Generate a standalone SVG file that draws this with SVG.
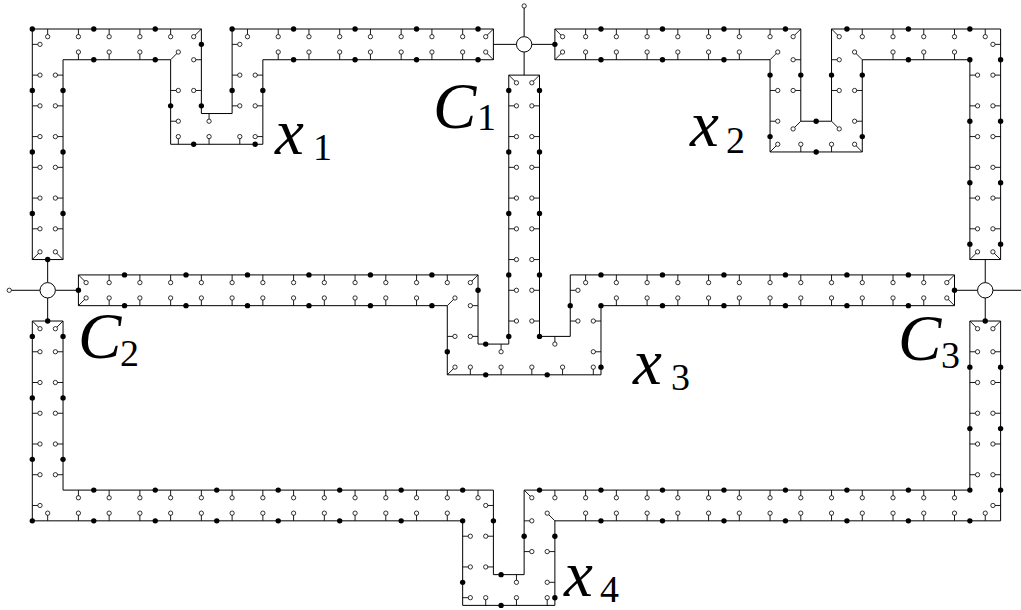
<svg xmlns="http://www.w3.org/2000/svg" width="1021" height="610" viewBox="0 0 1021 610">
<style>
.ln{fill:none;stroke:#000;stroke-width:1;vector-effect:non-scaling-stroke}
.st{fill:none;stroke:#000;stroke-width:.9;vector-effect:non-scaling-stroke}
.pc circle{fill:#fff;stroke:#000;stroke-width:.8;vector-effect:non-scaling-stroke}
.dt circle{fill:#000}
.nd{fill:#fff;stroke:#000;stroke-width:1;vector-effect:non-scaling-stroke}
.lb{font-family:"Liberation Serif","Times New Roman",serif;font-style:italic;font-size:65px}
.sb{font-family:"Liberation Serif","Times New Roman",serif;font-size:38px}
</style>
<rect width="1021" height="610" fill="#fff"/>
<g transform="translate(32.3 29) scale(15.37)">
<g id="connectors">
<path class="ln" d="M30 1H31.5M32.5 1H34M32 1.5V3M32 .5V-1.5M-1.5 17H.5M1.5 17H3M1 15V16.5M1 17.5V19M60 17H61.5M62.5 17H65M62 15V16.5M62 17.5V19"/>
<g class="pc"><circle cx="32" cy="-1.5" r=".14"/><circle cx="-1.5" cy="17" r=".14"/></g>
</g>
<g id="C1"><circle class="nd" cx="32" cy="1" r=".5"/></g>
<g id="C2"><circle class="nd" cx="1" cy="17" r=".5"/></g>
<g id="C3"><circle class="nd" cx="62" cy="17" r=".5"/></g>

<g id="strip-top-left">
<polygon class="ln" points="0,15 0,0 11,0 11,5.5 13,5.5 13,0 30,0 30,2 15,2 15,7.5 9,7.5 9,2 2,2 2,15"/>
<path class="st" d="M1 0v.5M3 0v.5M5 0v.5M7 0v.5M9 0v.5M11 0l-.5 .5M0 1h.5M0 3h.5M0 5h.5M0 7h.5M0 9h.5M0 11h.5M0 13h.5M0 15l.5-.5M2 3h-.5M2 5h-.5M2 7h-.5M2 9h-.5M2 11h-.5M2 13h-.5M2 15l-.5-.5M3 2v-.5M5 2v-.5M7 2v-.5M9 2l.5-.5M11 2h-.5M11 4h-.5M11.5 5.5v.5M13 1h.5M13 3h.5M13 5h.5M9 4h.5M9 6h.5M9.5 7.5v-.5M11.5 7.5v-.5M13.5 7.5v-.5M15 3h-.5M15 5h-.5M15 7h-.5M14 0v.5M16 0v.5M18 0v.5M20 0v.5M22 0v.5M24 0v.5M26 0v.5M28 0v.5M30 0l-.5 .5M16 2v-.5M18 2v-.5M20 2v-.5M22 2v-.5M24 2v-.5M26 2v-.5M28 2v-.5M30 2l-.5-.5"/>
<g class="pc">
<circle cx="1" cy=".5" r=".14"/><circle cx="3" cy=".5" r=".14"/><circle cx="5" cy=".5" r=".14"/><circle cx="7" cy=".5" r=".14"/><circle cx="9" cy=".5" r=".14"/><circle cx="10.5" cy=".5" r=".14"/>
<circle cx=".5" cy="1" r=".14"/><circle cx=".5" cy="3" r=".14"/><circle cx=".5" cy="5" r=".14"/><circle cx=".5" cy="7" r=".14"/><circle cx=".5" cy="9" r=".14"/><circle cx=".5" cy="11" r=".14"/><circle cx=".5" cy="13" r=".14"/><circle cx=".5" cy="14.5" r=".14"/>
<circle cx="1.5" cy="3" r=".14"/><circle cx="1.5" cy="5" r=".14"/><circle cx="1.5" cy="7" r=".14"/><circle cx="1.5" cy="9" r=".14"/><circle cx="1.5" cy="11" r=".14"/><circle cx="1.5" cy="13" r=".14"/><circle cx="1.5" cy="14.5" r=".14"/>
<circle cx="3" cy="1.5" r=".14"/><circle cx="5" cy="1.5" r=".14"/><circle cx="7" cy="1.5" r=".14"/><circle cx="9.5" cy="1.5" r=".14"/>
<circle cx="10.5" cy="2" r=".14"/><circle cx="10.5" cy="4" r=".14"/><circle cx="11.5" cy="6" r=".14"/>
<circle cx="13.5" cy="1" r=".14"/><circle cx="13.5" cy="3" r=".14"/><circle cx="13.5" cy="5" r=".14"/>
<circle cx="9.5" cy="4" r=".14"/><circle cx="9.5" cy="6" r=".14"/>
<circle cx="9.5" cy="7" r=".14"/><circle cx="11.5" cy="7" r=".14"/><circle cx="13.5" cy="7" r=".14"/>
<circle cx="14.5" cy="3" r=".14"/><circle cx="14.5" cy="5" r=".14"/><circle cx="14.5" cy="7" r=".14"/>
<circle cx="14" cy=".5" r=".14"/><circle cx="16" cy=".5" r=".14"/><circle cx="18" cy=".5" r=".14"/><circle cx="20" cy=".5" r=".14"/><circle cx="22" cy=".5" r=".14"/><circle cx="24" cy=".5" r=".14"/><circle cx="26" cy=".5" r=".14"/><circle cx="28" cy=".5" r=".14"/><circle cx="29.5" cy=".5" r=".14"/>
<circle cx="16" cy="1.5" r=".14"/><circle cx="18" cy="1.5" r=".14"/><circle cx="20" cy="1.5" r=".14"/><circle cx="22" cy="1.5" r=".14"/><circle cx="24" cy="1.5" r=".14"/><circle cx="26" cy="1.5" r=".14"/><circle cx="28" cy="1.5" r=".14"/><circle cx="29.5" cy="1.5" r=".14"/>
</g>
<g class="dt">
<circle cx="0" cy="0" r=".175"/><circle cx="0" cy="4" r=".175"/><circle cx="0" cy="8" r=".175"/><circle cx="0" cy="12" r=".175"/><circle cx="4" cy="0" r=".175"/><circle cx="8" cy="0" r=".175"/><circle cx="11" cy="1" r=".175"/><circle cx="11" cy="5" r=".175"/><circle cx="13" cy="4" r=".175"/><circle cx="13" cy="0" r=".175"/><circle cx="17" cy="0" r=".175"/><circle cx="21" cy="0" r=".175"/><circle cx="25" cy="0" r=".175"/><circle cx="29" cy="0" r=".175"/><circle cx="4" cy="2" r=".175"/><circle cx="8" cy="2" r=".175"/><circle cx="17" cy="2" r=".175"/><circle cx="21" cy="2" r=".175"/><circle cx="25" cy="2" r=".175"/><circle cx="29" cy="2" r=".175"/><circle cx="2" cy="4" r=".175"/><circle cx="2" cy="8" r=".175"/><circle cx="2" cy="12" r=".175"/><circle cx="9" cy="5" r=".175"/><circle cx="10.5" cy="7.5" r=".175"/><circle cx="14.5" cy="7.5" r=".175"/><circle cx="15" cy="4" r=".175"/><circle cx="1" cy="15" r=".175"/>
</g>
</g>

<g id="strip-top-right">
<polygon class="ln" points="34,0 50,0 50,6 52,6 52,0 63,0 63,15 61,15 61,2 54,2 54,8 48,8 48,2 34,2"/>
<path class="st" d="M34 0l.5 .5M34 2l.5-.5M36 0v.5M38 0v.5M40 0v.5M42 0v.5M44 0v.5M46 0v.5M48 0v.5M50 0l-.5 .5M36 2v-.5M38 2v-.5M40 2v-.5M42 2v-.5M44 2v-.5M46 2v-.5M48 2l.5-.5M50 2h-.5M50 4h-.5M50 6l-.5 .5M52 2h.5M52 4h.5M52 6l.5 .5M52 0l.5 .5M48 4h.5M48 6h.5M48 8l.5-.5M50 8v-.5M52 8v-.5M54 4h-.5M54 6h-.5M54 8l-.5-.5M54 2l-.5-.5M54 0v.5M56 0v.5M58 0v.5M60 0v.5M62 0v.5M56 2v-.5M58 2v-.5M60 2v-.5M63 1h-.5M63 3h-.5M63 5h-.5M63 7h-.5M63 9h-.5M63 11h-.5M63 13h-.5M63 15l-.5-.5M61 3h.5M61 5h.5M61 7h.5M61 9h.5M61 11h.5M61 13h.5M61 15l.5-.5"/>
<g class="pc">
<circle cx="34.5" cy=".5" r=".14"/><circle cx="34.5" cy="1.5" r=".14"/>
<circle cx="36" cy=".5" r=".14"/><circle cx="38" cy=".5" r=".14"/><circle cx="40" cy=".5" r=".14"/><circle cx="42" cy=".5" r=".14"/><circle cx="44" cy=".5" r=".14"/><circle cx="46" cy=".5" r=".14"/><circle cx="48" cy=".5" r=".14"/><circle cx="49.5" cy=".5" r=".14"/>
<circle cx="36" cy="1.5" r=".14"/><circle cx="38" cy="1.5" r=".14"/><circle cx="40" cy="1.5" r=".14"/><circle cx="42" cy="1.5" r=".14"/><circle cx="44" cy="1.5" r=".14"/><circle cx="46" cy="1.5" r=".14"/><circle cx="48.5" cy="1.5" r=".14"/>
<circle cx="49.5" cy="2" r=".14"/><circle cx="49.5" cy="4" r=".14"/><circle cx="49.5" cy="6.5" r=".14"/>
<circle cx="52.5" cy="2" r=".14"/><circle cx="52.5" cy="4" r=".14"/><circle cx="52.5" cy="6.5" r=".14"/><circle cx="52.5" cy=".5" r=".14"/>
<circle cx="48.5" cy="4" r=".14"/><circle cx="48.5" cy="6" r=".14"/><circle cx="48.5" cy="7.5" r=".14"/>
<circle cx="50" cy="7.5" r=".14"/><circle cx="52" cy="7.5" r=".14"/>
<circle cx="53.5" cy="4" r=".14"/><circle cx="53.5" cy="6" r=".14"/><circle cx="53.5" cy="7.5" r=".14"/><circle cx="53.5" cy="1.5" r=".14"/>
<circle cx="54" cy=".5" r=".14"/><circle cx="56" cy=".5" r=".14"/><circle cx="58" cy=".5" r=".14"/><circle cx="60" cy=".5" r=".14"/><circle cx="62" cy=".5" r=".14"/>
<circle cx="56" cy="1.5" r=".14"/><circle cx="58" cy="1.5" r=".14"/><circle cx="60" cy="1.5" r=".14"/>
<circle cx="62.5" cy="1" r=".14"/><circle cx="62.5" cy="3" r=".14"/><circle cx="62.5" cy="5" r=".14"/><circle cx="62.5" cy="7" r=".14"/><circle cx="62.5" cy="9" r=".14"/><circle cx="62.5" cy="11" r=".14"/><circle cx="62.5" cy="13" r=".14"/><circle cx="62.5" cy="14.5" r=".14"/>
<circle cx="61.5" cy="3" r=".14"/><circle cx="61.5" cy="5" r=".14"/><circle cx="61.5" cy="7" r=".14"/><circle cx="61.5" cy="9" r=".14"/><circle cx="61.5" cy="11" r=".14"/><circle cx="61.5" cy="13" r=".14"/><circle cx="61.5" cy="14.5" r=".14"/>
</g>
<g class="dt">
<circle cx="34" cy="1" r=".175"/><circle cx="37" cy="0" r=".175"/><circle cx="41" cy="0" r=".175"/><circle cx="45" cy="0" r=".175"/><circle cx="49" cy="0" r=".175"/><circle cx="50" cy="3" r=".175"/><circle cx="51" cy="6" r=".175"/><circle cx="52" cy="3" r=".175"/><circle cx="53" cy="0" r=".175"/><circle cx="57" cy="0" r=".175"/><circle cx="61" cy="0" r=".175"/><circle cx="63" cy="2" r=".175"/><circle cx="63" cy="6" r=".175"/><circle cx="63" cy="10" r=".175"/><circle cx="63" cy="14" r=".175"/><circle cx="37" cy="2" r=".175"/><circle cx="41" cy="2" r=".175"/><circle cx="45" cy="2" r=".175"/><circle cx="48" cy="3" r=".175"/><circle cx="48" cy="7" r=".175"/><circle cx="51" cy="8" r=".175"/><circle cx="54" cy="3" r=".175"/><circle cx="54" cy="7" r=".175"/><circle cx="57" cy="2" r=".175"/><circle cx="61" cy="2" r=".175"/><circle cx="61" cy="6" r=".175"/><circle cx="61" cy="10" r=".175"/><circle cx="61" cy="14" r=".175"/>
</g>
</g>

<g id="strip-middle">
<polygon class="ln" points="3,16 29,16 29,20.5 31,20.5 31,3 33,3 33,20 35,20 35,16 60,16 60,18 37,18 37,22.5 27,22.5 27,18 3,18"/>
<path class="st" d="M3 16l.5 .5M3 18l.5-.5M5 16v.5M7 16v.5M9 16v.5M11 16v.5M13 16v.5M15 16v.5M17 16v.5M19 16v.5M21 16v.5M23 16v.5M25 16v.5M27 16v.5M29 16l-.5 .5M29 18h-.5M29 20h-.5M30.5 20.5v.5M31 3l.5 .5M31 5h.5M31 7h.5M31 9h.5M31 11h.5M31 13h.5M31 15h.5M31 17h.5M31 19h.5M33 3l-.5 .5M33 5h-.5M33 7h-.5M33 9h-.5M33 11h-.5M33 13h-.5M33 15h-.5M33 17h-.5M33 19h-.5M34 20v.5M35 17h.5M35 19h.5M36 16v.5M38 16v.5M40 16v.5M42 16v.5M44 16v.5M46 16v.5M48 16v.5M50 16v.5M52 16v.5M54 16v.5M56 16v.5M58 16v.5M60 16l-.5 .5M38 18v-.5M40 18v-.5M42 18v-.5M44 18v-.5M46 18v-.5M48 18v-.5M50 18v-.5M52 18v-.5M54 18v-.5M56 18v-.5M58 18v-.5M60 18l-.5-.5M37 19h-.5M37 21h-.5M28.5 22.5v-.5M30.5 22.5v-.5M32.5 22.5v-.5M34.5 22.5v-.5M36.5 22.5v-.5M27 20h.5M27 18l.5-.5M27 22.5l.5-.5M5 18v-.5M7 18v-.5M9 18v-.5M11 18v-.5M13 18v-.5M15 18v-.5M17 18v-.5M19 18v-.5M21 18v-.5M23 18v-.5M25 18v-.5"/>
<g class="pc">
<circle cx="3.5" cy="16.5" r=".14"/><circle cx="3.5" cy="17.5" r=".14"/>
<circle cx="5" cy="16.5" r=".14"/><circle cx="7" cy="16.5" r=".14"/><circle cx="9" cy="16.5" r=".14"/><circle cx="11" cy="16.5" r=".14"/><circle cx="13" cy="16.5" r=".14"/><circle cx="15" cy="16.5" r=".14"/><circle cx="17" cy="16.5" r=".14"/><circle cx="19" cy="16.5" r=".14"/><circle cx="21" cy="16.5" r=".14"/><circle cx="23" cy="16.5" r=".14"/><circle cx="25" cy="16.5" r=".14"/><circle cx="27" cy="16.5" r=".14"/><circle cx="28.5" cy="16.5" r=".14"/>
<circle cx="28.5" cy="18" r=".14"/><circle cx="28.5" cy="20" r=".14"/><circle cx="30.5" cy="21" r=".14"/>
<circle cx="31.5" cy="3.5" r=".14"/><circle cx="31.5" cy="5" r=".14"/><circle cx="31.5" cy="7" r=".14"/><circle cx="31.5" cy="9" r=".14"/><circle cx="31.5" cy="11" r=".14"/><circle cx="31.5" cy="13" r=".14"/><circle cx="31.5" cy="15" r=".14"/><circle cx="31.5" cy="17" r=".14"/><circle cx="31.5" cy="19" r=".14"/>
<circle cx="32.5" cy="3.5" r=".14"/><circle cx="32.5" cy="5" r=".14"/><circle cx="32.5" cy="7" r=".14"/><circle cx="32.5" cy="9" r=".14"/><circle cx="32.5" cy="11" r=".14"/><circle cx="32.5" cy="13" r=".14"/><circle cx="32.5" cy="15" r=".14"/><circle cx="32.5" cy="17" r=".14"/><circle cx="32.5" cy="19" r=".14"/>
<circle cx="34" cy="20.5" r=".14"/><circle cx="35.5" cy="17" r=".14"/><circle cx="35.5" cy="19" r=".14"/>
<circle cx="36" cy="16.5" r=".14"/><circle cx="38" cy="16.5" r=".14"/><circle cx="40" cy="16.5" r=".14"/><circle cx="42" cy="16.5" r=".14"/><circle cx="44" cy="16.5" r=".14"/><circle cx="46" cy="16.5" r=".14"/><circle cx="48" cy="16.5" r=".14"/><circle cx="50" cy="16.5" r=".14"/><circle cx="52" cy="16.5" r=".14"/><circle cx="54" cy="16.5" r=".14"/><circle cx="56" cy="16.5" r=".14"/><circle cx="58" cy="16.5" r=".14"/><circle cx="59.5" cy="16.5" r=".14"/>
<circle cx="38" cy="17.5" r=".14"/><circle cx="40" cy="17.5" r=".14"/><circle cx="42" cy="17.5" r=".14"/><circle cx="44" cy="17.5" r=".14"/><circle cx="46" cy="17.5" r=".14"/><circle cx="48" cy="17.5" r=".14"/><circle cx="50" cy="17.5" r=".14"/><circle cx="52" cy="17.5" r=".14"/><circle cx="54" cy="17.5" r=".14"/><circle cx="56" cy="17.5" r=".14"/><circle cx="58" cy="17.5" r=".14"/><circle cx="59.5" cy="17.5" r=".14"/>
<circle cx="36.5" cy="19" r=".14"/><circle cx="36.5" cy="21" r=".14"/>
<circle cx="28.5" cy="22" r=".14"/><circle cx="30.5" cy="22" r=".14"/><circle cx="32.5" cy="22" r=".14"/><circle cx="34.5" cy="22" r=".14"/><circle cx="36.5" cy="22" r=".14"/>
<circle cx="27.5" cy="20" r=".14"/><circle cx="27.5" cy="17.5" r=".14"/><circle cx="27.5" cy="22" r=".14"/>
<circle cx="5" cy="17.5" r=".14"/><circle cx="7" cy="17.5" r=".14"/><circle cx="9" cy="17.5" r=".14"/><circle cx="11" cy="17.5" r=".14"/><circle cx="13" cy="17.5" r=".14"/><circle cx="15" cy="17.5" r=".14"/><circle cx="17" cy="17.5" r=".14"/><circle cx="19" cy="17.5" r=".14"/><circle cx="21" cy="17.5" r=".14"/><circle cx="23" cy="17.5" r=".14"/><circle cx="25" cy="17.5" r=".14"/>
</g>
<g class="dt">
<circle cx="3" cy="17" r=".175"/><circle cx="6" cy="16" r=".175"/><circle cx="10" cy="16" r=".175"/><circle cx="14" cy="16" r=".175"/><circle cx="18" cy="16" r=".175"/><circle cx="22" cy="16" r=".175"/><circle cx="26" cy="16" r=".175"/><circle cx="29" cy="17" r=".175"/><circle cx="29.5" cy="20.5" r=".175"/>
<circle cx="31" cy="4" r=".175"/><circle cx="31" cy="8" r=".175"/><circle cx="31" cy="12" r=".175"/><circle cx="31" cy="16" r=".175"/><circle cx="31" cy="20" r=".175"/>
<circle cx="33" cy="4" r=".175"/><circle cx="33" cy="8" r=".175"/><circle cx="33" cy="12" r=".175"/><circle cx="33" cy="16" r=".175"/><circle cx="33" cy="20" r=".175"/>
<circle cx="35" cy="18" r=".175"/><circle cx="37" cy="16" r=".175"/><circle cx="41" cy="16" r=".175"/><circle cx="45" cy="16" r=".175"/><circle cx="49" cy="16" r=".175"/><circle cx="53" cy="16" r=".175"/><circle cx="57" cy="16" r=".175"/><circle cx="60" cy="17" r=".175"/>
<circle cx="37" cy="18" r=".175"/><circle cx="41" cy="18" r=".175"/><circle cx="45" cy="18" r=".175"/><circle cx="49" cy="18" r=".175"/><circle cx="53" cy="18" r=".175"/><circle cx="57" cy="18" r=".175"/>
<circle cx="37" cy="22" r=".175"/><circle cx="29.5" cy="22.5" r=".175"/><circle cx="33.5" cy="22.5" r=".175"/><circle cx="27" cy="21" r=".175"/>
<circle cx="6" cy="18" r=".175"/><circle cx="10" cy="18" r=".175"/><circle cx="14" cy="18" r=".175"/><circle cx="18" cy="18" r=".175"/><circle cx="22" cy="18" r=".175"/><circle cx="26" cy="18" r=".175"/>
</g>
</g>

<g id="strip-bottom">
<polygon class="ln" points="0,19 2,19 2,30 30,30 30,35.5 32,35.5 32,30 61,30 61,19 63,19 63,32 34,32 34,37.5 28,37.5 28,32 0,32"/>
<path class="st" d="M0 19l.5 .5M2 19l-.5 .5M61 19l.5 .5M63 19l-.5 .5M0 21h.5M0 23h.5M0 25h.5M0 27h.5M0 29h.5M0 31h.5M2 21h-.5M2 23h-.5M2 25h-.5M2 27h-.5M2 29h-.5M1 32v-.5M3 32v-.5M5 32v-.5M7 32v-.5M9 32v-.5M11 32v-.5M13 32v-.5M15 32v-.5M17 32v-.5M19 32v-.5M21 32v-.5M23 32v-.5M25 32v-.5M27 32v-.5M3 30v.5M5 30v.5M7 30v.5M9 30v.5M11 30v.5M13 30v.5M15 30v.5M17 30v.5M19 30v.5M21 30v.5M23 30v.5M25 30v.5M27 30v.5M29 30v.5M30 31h-.5M30 33h-.5M30 35h-.5M31.5 35.5v.5M32 32h.5M32 34h.5M32 30l.5 .5M34 30v.5M36 30v.5M38 30v.5M40 30v.5M42 30v.5M44 30v.5M46 30v.5M48 30v.5M50 30v.5M52 30v.5M54 30v.5M56 30v.5M58 30v.5M60 30v.5M61 21h.5M61 23h.5M61 25h.5M61 27h.5M61 29h.5M63 21h-.5M63 23h-.5M63 25h-.5M63 27h-.5M63 29h-.5M63 31h-.5M36 32v-.5M38 32v-.5M40 32v-.5M42 32v-.5M44 32v-.5M46 32v-.5M48 32v-.5M50 32v-.5M52 32v-.5M54 32v-.5M56 32v-.5M58 32v-.5M60 32v-.5M62 32v-.5M34 34h-.5M34 36h-.5M34 32l-.5-.5M29.5 37.5v-.5M31.5 37.5v-.5M33.5 37.5v-.5M28 33h.5M28 35h.5M28 37h.5"/>
<g class="pc">
<circle cx=".5" cy="19.5" r=".14"/><circle cx="1.5" cy="19.5" r=".14"/><circle cx="61.5" cy="19.5" r=".14"/><circle cx="62.5" cy="19.5" r=".14"/>
<circle cx=".5" cy="21" r=".14"/><circle cx=".5" cy="23" r=".14"/><circle cx=".5" cy="25" r=".14"/><circle cx=".5" cy="27" r=".14"/><circle cx=".5" cy="29" r=".14"/><circle cx=".5" cy="31" r=".14"/>
<circle cx="1.5" cy="21" r=".14"/><circle cx="1.5" cy="23" r=".14"/><circle cx="1.5" cy="25" r=".14"/><circle cx="1.5" cy="27" r=".14"/><circle cx="1.5" cy="29" r=".14"/>
<circle cx="1" cy="31.5" r=".14"/><circle cx="3" cy="31.5" r=".14"/><circle cx="5" cy="31.5" r=".14"/><circle cx="7" cy="31.5" r=".14"/><circle cx="9" cy="31.5" r=".14"/><circle cx="11" cy="31.5" r=".14"/><circle cx="13" cy="31.5" r=".14"/><circle cx="15" cy="31.5" r=".14"/><circle cx="17" cy="31.5" r=".14"/><circle cx="19" cy="31.5" r=".14"/><circle cx="21" cy="31.5" r=".14"/><circle cx="23" cy="31.5" r=".14"/><circle cx="25" cy="31.5" r=".14"/><circle cx="27" cy="31.5" r=".14"/>
<circle cx="3" cy="30.5" r=".14"/><circle cx="5" cy="30.5" r=".14"/><circle cx="7" cy="30.5" r=".14"/><circle cx="9" cy="30.5" r=".14"/><circle cx="11" cy="30.5" r=".14"/><circle cx="13" cy="30.5" r=".14"/><circle cx="15" cy="30.5" r=".14"/><circle cx="17" cy="30.5" r=".14"/><circle cx="19" cy="30.5" r=".14"/><circle cx="21" cy="30.5" r=".14"/><circle cx="23" cy="30.5" r=".14"/><circle cx="25" cy="30.5" r=".14"/><circle cx="27" cy="30.5" r=".14"/><circle cx="29" cy="30.5" r=".14"/>
<circle cx="29.5" cy="31" r=".14"/><circle cx="29.5" cy="33" r=".14"/><circle cx="29.5" cy="35" r=".14"/><circle cx="31.5" cy="36" r=".14"/>
<circle cx="32.5" cy="32" r=".14"/><circle cx="32.5" cy="34" r=".14"/><circle cx="32.5" cy="30.5" r=".14"/>
<circle cx="34" cy="30.5" r=".14"/><circle cx="36" cy="30.5" r=".14"/><circle cx="38" cy="30.5" r=".14"/><circle cx="40" cy="30.5" r=".14"/><circle cx="42" cy="30.5" r=".14"/><circle cx="44" cy="30.5" r=".14"/><circle cx="46" cy="30.5" r=".14"/><circle cx="48" cy="30.5" r=".14"/><circle cx="50" cy="30.5" r=".14"/><circle cx="52" cy="30.5" r=".14"/><circle cx="54" cy="30.5" r=".14"/><circle cx="56" cy="30.5" r=".14"/><circle cx="58" cy="30.5" r=".14"/><circle cx="60" cy="30.5" r=".14"/>
<circle cx="61.5" cy="21" r=".14"/><circle cx="61.5" cy="23" r=".14"/><circle cx="61.5" cy="25" r=".14"/><circle cx="61.5" cy="27" r=".14"/><circle cx="61.5" cy="29" r=".14"/>
<circle cx="62.5" cy="21" r=".14"/><circle cx="62.5" cy="23" r=".14"/><circle cx="62.5" cy="25" r=".14"/><circle cx="62.5" cy="27" r=".14"/><circle cx="62.5" cy="29" r=".14"/><circle cx="62.5" cy="31" r=".14"/>
<circle cx="36" cy="31.5" r=".14"/><circle cx="38" cy="31.5" r=".14"/><circle cx="40" cy="31.5" r=".14"/><circle cx="42" cy="31.5" r=".14"/><circle cx="44" cy="31.5" r=".14"/><circle cx="46" cy="31.5" r=".14"/><circle cx="48" cy="31.5" r=".14"/><circle cx="50" cy="31.5" r=".14"/><circle cx="52" cy="31.5" r=".14"/><circle cx="54" cy="31.5" r=".14"/><circle cx="56" cy="31.5" r=".14"/><circle cx="58" cy="31.5" r=".14"/><circle cx="60" cy="31.5" r=".14"/><circle cx="62" cy="31.5" r=".14"/>
<circle cx="33.5" cy="34" r=".14"/><circle cx="33.5" cy="36" r=".14"/><circle cx="33.5" cy="31.5" r=".14"/>
<circle cx="29.5" cy="37" r=".14"/><circle cx="31.5" cy="37" r=".14"/><circle cx="33.5" cy="37" r=".14"/>
<circle cx="28.5" cy="33" r=".14"/><circle cx="28.5" cy="35" r=".14"/><circle cx="28.5" cy="37" r=".14"/>
</g>
<g class="dt">
<circle cx="1" cy="19" r=".175"/><circle cx="62" cy="19" r=".175"/><circle cx="0" cy="20" r=".175"/><circle cx="0" cy="24" r=".175"/><circle cx="0" cy="28" r=".175"/><circle cx="0" cy="32" r=".175"/><circle cx="2" cy="20" r=".175"/><circle cx="2" cy="24" r=".175"/><circle cx="2" cy="28" r=".175"/>
<circle cx="4" cy="32" r=".175"/><circle cx="8" cy="32" r=".175"/><circle cx="12" cy="32" r=".175"/><circle cx="16" cy="32" r=".175"/><circle cx="20" cy="32" r=".175"/><circle cx="24" cy="32" r=".175"/><circle cx="28" cy="32" r=".175"/>
<circle cx="4" cy="30" r=".175"/><circle cx="8" cy="30" r=".175"/><circle cx="12" cy="30" r=".175"/><circle cx="16" cy="30" r=".175"/><circle cx="20" cy="30" r=".175"/><circle cx="24" cy="30" r=".175"/><circle cx="28" cy="30" r=".175"/>
<circle cx="30" cy="32" r=".175"/><circle cx="30.5" cy="35.5" r=".175"/><circle cx="32" cy="33" r=".175"/>
<circle cx="33" cy="30" r=".175"/><circle cx="37" cy="30" r=".175"/><circle cx="41" cy="30" r=".175"/><circle cx="45" cy="30" r=".175"/><circle cx="49" cy="30" r=".175"/><circle cx="53" cy="30" r=".175"/><circle cx="57" cy="30" r=".175"/><circle cx="61" cy="30" r=".175"/>
<circle cx="28" cy="36" r=".175"/><circle cx="30.5" cy="37.5" r=".175"/><circle cx="34" cy="33" r=".175"/><circle cx="34" cy="37" r=".175"/>
<circle cx="37" cy="32" r=".175"/><circle cx="41" cy="32" r=".175"/><circle cx="45" cy="32" r=".175"/><circle cx="49" cy="32" r=".175"/><circle cx="53" cy="32" r=".175"/><circle cx="57" cy="32" r=".175"/><circle cx="61" cy="32" r=".175"/>
<circle cx="63" cy="22" r=".175"/><circle cx="63" cy="26" r=".175"/><circle cx="63" cy="30" r=".175"/><circle cx="61" cy="22" r=".175"/><circle cx="61" cy="26" r=".175"/>
</g>
</g>
</g>

<g id="labels">
<text class="lb" x="433" y="128">C</text><text class="sb" x="477" y="130">1</text>
<text class="lb" x="275" y="154">x</text><text class="sb" x="313" y="160">1</text>
<text class="lb" x="690" y="146">x</text><text class="sb" x="726" y="153">2</text>
<text class="lb" x="78" y="358">C</text><text class="sb" x="120" y="366">2</text>
<text class="lb" x="633" y="384">x</text><text class="sb" x="671" y="390">3</text>
<text class="lb" x="898" y="360">C</text><text class="sb" x="941" y="368">3</text>
<text class="lb" x="564" y="596">x</text><text class="sb" x="600" y="602">4</text>
</g>
</svg>
